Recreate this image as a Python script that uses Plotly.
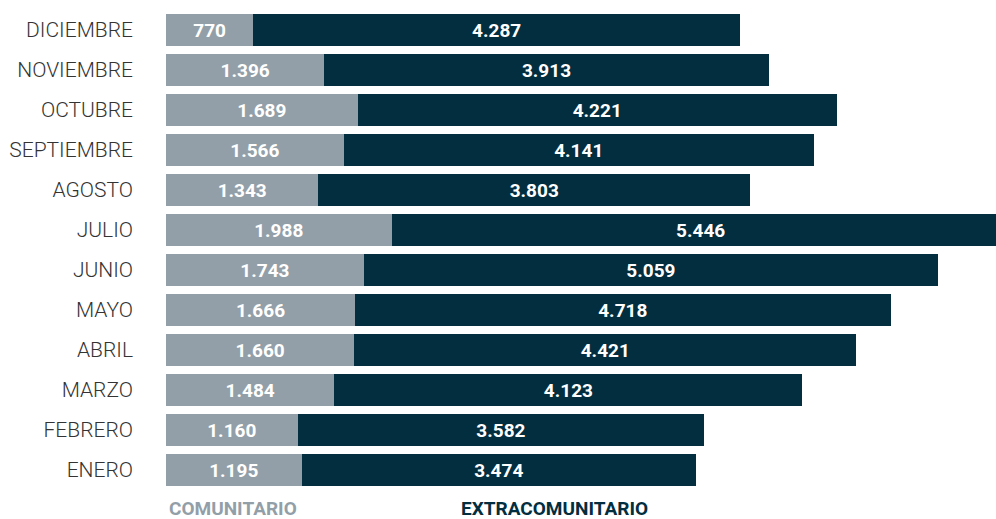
import plotly.graph_objects as go

months = ["ENERO", "FEBRERO", "MARZO", "ABRIL", "MAYO", "JUNIO", "JULIO",
          "AGOSTO", "SEPTIEMBRE", "OCTUBRE", "NOVIEMBRE", "DICIEMBRE"]
comunitario = [1195, 1160, 1484, 1660, 1666, 1743, 1988, 1343, 1566, 1689, 1396, 770]
extracomunitario = [3474, 3582, 4123, 4421, 4718, 5059, 5446, 3803, 4141, 4221, 3913, 4287]

def fmt(v):
    return f"{v:,}".replace(",", ".")

GREY = "#939fa8"
DARK = "#022e3f"
FONT = "Roboto"

fig = go.Figure()
fig.add_trace(go.Bar(
    y=months, x=comunitario, orientation="h", name="COMUNITARIO",
    marker=dict(color=GREY, line=dict(width=0)),
    text=[fmt(v) for v in comunitario], textposition="inside",
    insidetextanchor="middle", constraintext="none",
    textfont=dict(color="white", size=19, family=FONT, weight="bold"),
    hoverinfo="skip",
))
fig.add_trace(go.Bar(
    y=months, x=extracomunitario, orientation="h", name="EXTRACOMUNITARIO",
    marker=dict(color=DARK, line=dict(width=0)),
    text=[fmt(v) for v in extracomunitario], textposition="inside",
    insidetextanchor="middle", constraintext="none",
    textfont=dict(color="white", size=19, family=FONT, weight="bold"),
    hoverinfo="skip",
))

fig.update_layout(
    width=996, height=519,
    barmode="stack", bargap=0.2,
    margin=dict(l=166, r=0, t=10, b=29),
    paper_bgcolor="white", plot_bgcolor="white",
    showlegend=False,
    xaxis=dict(range=[0, 7313], visible=False, fixedrange=True),
    yaxis=dict(showgrid=False, showline=False, zeroline=False,
               ticks="", ticklabelstandoff=32, automargin=False,
               tickfont=dict(family=FONT, size=21, color="#333333", weight=300),
               range=[-0.5, 11.5], fixedrange=True),
    annotations=[
        dict(text="COMUNITARIO", x=(233 - 166) / 0.1135, xref="x", y=-0.039, yref="paper",
             xanchor="center", yanchor="middle", showarrow=False,
             font=dict(family=FONT, size=19, color=GREY, weight="bold")),
        dict(text="EXTRACOMUNITARIO", x=(555 - 166) / 0.1135, xref="x", y=-0.039, yref="paper",
             xanchor="center", yanchor="middle", showarrow=False,
             font=dict(family=FONT, size=19, color=DARK, weight="bold")),
    ],
)

fig.write_html("out.html", config={"displayModeBar": False},
               post_script="document.body.style.margin='0';")
